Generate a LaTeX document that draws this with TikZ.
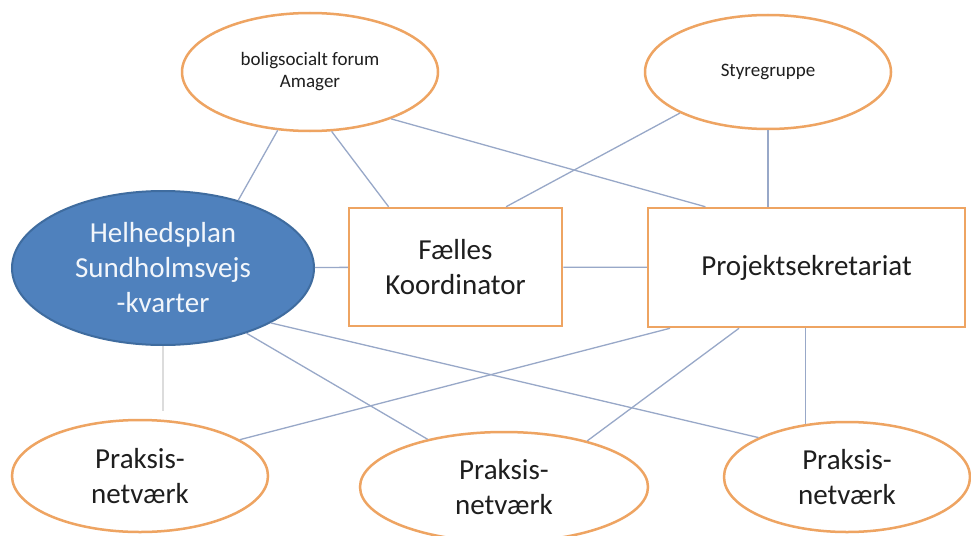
\documentclass[tikz,border=0pt]{standalone}
\usepackage{fontspec}
\setmainfont{Carlito}
\usetikzlibrary{shapes.geometric}
\definecolor{orng}{HTML}{EEA462}
\definecolor{bluefill}{HTML}{4F81BD}
\definecolor{blueline}{HTML}{3F6C9F}
\definecolor{conn}{HTML}{98A8C8}
\definecolor{faint}{HTML}{DCDCDC}
\definecolor{txt}{HTML}{1E1E1E}
\definecolor{wtxt}{HTML}{F2F6FB}
\begin{document}
\begin{tikzpicture}[x=1pt,y=-1pt,
  oval/.style={ellipse, draw=orng, line width=2.5pt, fill=white, inner sep=0pt, align=center, text=txt},
  box/.style={rectangle, draw=orng, line width=2.5pt, fill=white, inner sep=0pt, align=center, text=txt},
  bigtxt/.style={font=\fontsize{29}{35}\selectfont},
  smalltxt/.style={font=\fontsize{19}{22}\selectfont},
  link/.style={draw=conn, line width=1.3pt},
  faintlink/.style={draw=faint, line width=1.3pt},
]
\fill[white] (0,0) rectangle (971,535);
\useasboundingbox (0,0) rectangle (971,535);

\node[oval, smalltxt, minimum width=256pt, minimum height=118pt] (bolig) at (310,72) {boligsocialt forum\\Amager};
\node[oval, smalltxt, minimum width=246pt, minimum height=114pt] (styr) at (768,72) {Styregruppe};
\node[ellipse, draw=blueline, fill=bluefill, line width=2pt, inner sep=0pt, align=center, text=wtxt, bigtxt,
      minimum width=302pt, minimum height=154pt] (helhed) at (163,268) {Helhedsplan\\Sundholmsvejs\\-kvarter};
\node[box, bigtxt, minimum width=213pt, minimum height=118pt] (faelles) at (455.5,267) {Fælles\\Koordinator};
\node[box, bigtxt, minimum width=317pt, minimum height=119pt] (projekt) at (806.5,267.5) {Projektsekretariat};
\node[oval, bigtxt, minimum width=256pt, minimum height=112pt] (p1) at (140,476) {Praksis-\\netværk};
\node[oval, bigtxt, minimum width=288pt, minimum height=110pt] (p2) at (504,487) {Praksis-\\netværk};
\node[oval, bigtxt, minimum width=246pt, minimum height=110pt] (p3) at (847,477) {Praksis-\\netværk};

\draw[link] (bolig.241) -- (helhed.42);
\draw[link] (bolig.290) -- (faelles.138.8);
\draw[link] (bolig.330.8) -- (projekt.149.7);
\draw[link] (styr.205.3) -- (faelles.50);
\draw[link] (styr.south) -- (styr.south |- projekt.north);
\draw[link] (helhed) -- (faelles);
\draw[link] (faelles) -- (projekt);
\draw[faintlink, shorten >=8pt] (helhed.south) -- (helhed.south |- p1.north);
\draw[link] (helhed.322.4) -- (p2.148.2);
\draw[link] (helhed.333.4) -- (p3.156.6);
\draw[link] (projekt.204.3) -- (p1.20.8);
\draw[link] (projekt.222.3) -- (p2.29.1);
\draw[link] (p3.128.3 |- projekt.south) -- (p3.128.3);
\end{tikzpicture}
\end{document}
